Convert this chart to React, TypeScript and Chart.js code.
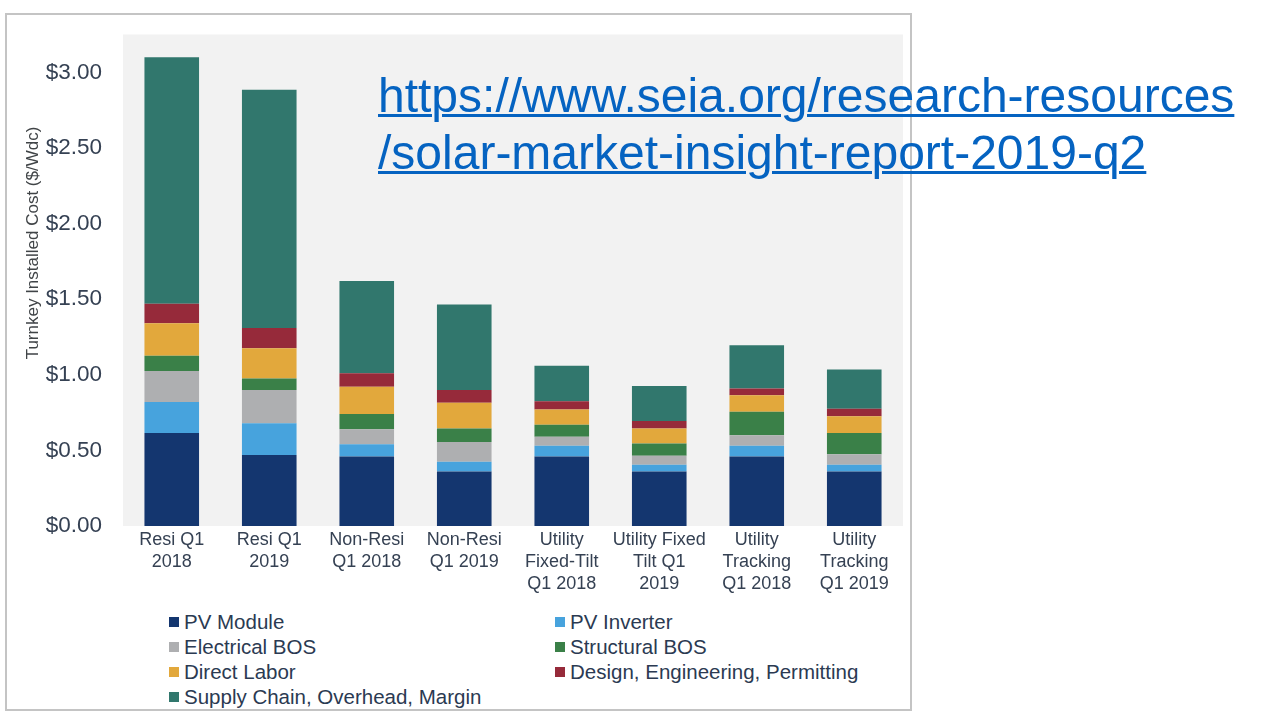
import React, { useEffect, useRef } from "react";
import { Chart, registerables } from "chart.js";

Chart.register(...registerables);

const categories: string[][] = [
  ["Resi Q1", "2018"],
  ["Resi Q1", "2019"],
  ["Non-Resi", "Q1 2018"],
  ["Non-Resi", "Q1 2019"],
  ["Utility", "Fixed-Tilt", "Q1 2018"],
  ["Utility Fixed", "Tilt Q1", "2019"],
  ["Utility", "Tracking", "Q1 2018"],
  ["Utility", "Tracking", "Q1 2019"],
];

const seriesNames = [
  "PV Module",
  "PV Inverter",
  "Electrical BOS",
  "Structural BOS",
  "Direct Labor",
  "Design, Engineering, Permitting",
  "Supply Chain, Overhead, Margin",
];

const seriesColors = [
  "#14366F",
  "#47A3DD",
  "#AEAFB1",
  "#3A8048",
  "#E2A83C",
  "#962A3A",
  "#31776D",
];

const pvModule = [0.615, 0.47, 0.46, 0.36, 0.46, 0.36, 0.46, 0.36];
const pvInverter = [0.205, 0.21, 0.08, 0.065, 0.07, 0.045, 0.07, 0.045];
const electricalBos = [0.205, 0.22, 0.1, 0.13, 0.06, 0.06, 0.07, 0.07];
const structuralBos = [0.1, 0.075, 0.1, 0.09, 0.08, 0.08, 0.155, 0.14];
const directLabor = [0.215, 0.2, 0.18, 0.17, 0.1, 0.1, 0.11, 0.11];
const designEngPermit = [0.13, 0.135, 0.09, 0.085, 0.055, 0.05, 0.045, 0.05];
const supplyChain = [1.63, 1.575, 0.61, 0.565, 0.235, 0.23, 0.285, 0.26];

const seriesValues = [
  pvModule,
  pvInverter,
  electricalBos,
  structuralBos,
  directLabor,
  designEngPermit,
  supplyChain,
];

const yAxisTitle = "Turnkey Installed Cost ($/Wdc)";
const yMax = 3.25;
const yStep = 0.5;

const urlLines = [
  "https://www.seia.org/research-resources",
  "/solar-market-insight-report-2019-q2",
];

const FONT = '"Liberation Sans", Arial, sans-serif';
const TEXT_COLOR = "#354153";

const plotBgPlugin = {
  id: "plotBg",
  beforeDraw(chart: any) {
    const { ctx, chartArea } = chart;
    ctx.save();
    ctx.fillStyle = "#F2F2F2";
    ctx.fillRect(
      chartArea.left,
      chartArea.top,
      chartArea.right - chartArea.left,
      chartArea.bottom - chartArea.top
    );
    ctx.restore();
  },
};

const yTitlePlugin = {
  id: "yTitle",
  afterDraw(chart: any) {
    const { ctx } = chart;
    ctx.save();
    ctx.translate(33, 243);
    ctx.rotate(-Math.PI / 2);
    ctx.textAlign = "center";
    ctx.textBaseline = "middle";
    ctx.font = `17px ${FONT}`;
    ctx.fillStyle = "#404447";
    ctx.fillText(yAxisTitle, 0, 0);
    ctx.restore();
  },
};

export default function App() {
  const canvasRef = useRef<HTMLCanvasElement | null>(null);

  useEffect(() => {
    if (!canvasRef.current) return;
    const chart = new Chart(canvasRef.current, {
      type: "bar",
      data: {
        labels: categories,
        datasets: seriesNames.map((name, i) => ({
          label: name,
          data: seriesValues[i],
          backgroundColor: seriesColors[i],
          borderWidth: 0,
          barPercentage: 0.56,
          categoryPercentage: 1.0,
        })),
      },
      options: {
        animation: false,
        responsive: true,
        maintainAspectRatio: false,
        layout: { padding: { left: 0, right: 17, top: 34, bottom: 0 } },
        plugins: {
          legend: { display: false },
          tooltip: { enabled: false },
        },
        scales: {
          x: {
            stacked: true,
            grid: { display: false, drawTicks: false },
            border: { display: false },
            ticks: {
              padding: 3,
              color: TEXT_COLOR,
              font: { family: FONT, size: 18, lineHeight: 22 / 18 },
              maxRotation: 0,
              autoSkip: false,
            },
            afterFit: (scale: any) => {
              scale.height = 84;
            },
          },
          y: {
            stacked: true,
            min: 0,
            max: yMax,
            bounds: "data",
            grid: { display: false, drawTicks: false },
            border: { display: false },
            ticks: {
              stepSize: yStep,
              includeBounds: false,
              padding: 21,
              color: TEXT_COLOR,
              font: { family: FONT, size: 22.5 },
              callback: (v: any) => "$" + Number(v).toFixed(2),
            },
            afterFit: (scale: any) => {
              scale.width = 123;
            },
          },
        },
      } as any,
      plugins: [plotBgPlugin, yTitlePlugin],
    });
    return () => chart.destroy();
  }, []);

  return (
    <div
      style={{
        position: "absolute",
        left: 0,
        top: 0,
        width: 1280,
        height: 720,
        background: "#ffffff",
        overflow: "hidden",
        fontFamily: FONT,
      }}
    >
      <div
        style={{
          position: "absolute",
          left: 5,
          top: 13,
          width: 907,
          height: 698,
          border: "2px solid #C4C4C4",
          boxSizing: "border-box",
        }}
      />
      <div style={{ position: "absolute", left: 0, top: 0, width: 920, height: 610 }}>
        <canvas ref={canvasRef} />
      </div>
      {seriesNames.map((name, i) => {
        const row = Math.floor(i / 2);
        const col = i % 2;
        return (
          <div
            key={name}
            style={{
              position: "absolute",
              left: col === 0 ? 169 : 555,
              top: 609.5 + row * 25,
              height: 25,
              display: "flex",
              alignItems: "center",
              whiteSpace: "nowrap",
              fontSize: 20.5,
              color: "#2B3A52",
            }}
          >
            <span
              style={{
                display: "inline-block",
                width: 10,
                height: 10,
                background: seriesColors[i],
                marginRight: 5,
              }}
            />
            <span>{name}</span>
          </div>
        );
      })}
      <div
        style={{
          position: "absolute",
          left: 378,
          top: 68,
          fontSize: 48,
          lineHeight: "56.6px",
          color: "#0563C1",
          textDecoration: "underline",
          textDecorationThickness: 3,
          whiteSpace: "nowrap",
        }}
      >
        {urlLines.map((l) => (
          <div key={l}>{l}</div>
        ))}
      </div>
    </div>
  );
}
